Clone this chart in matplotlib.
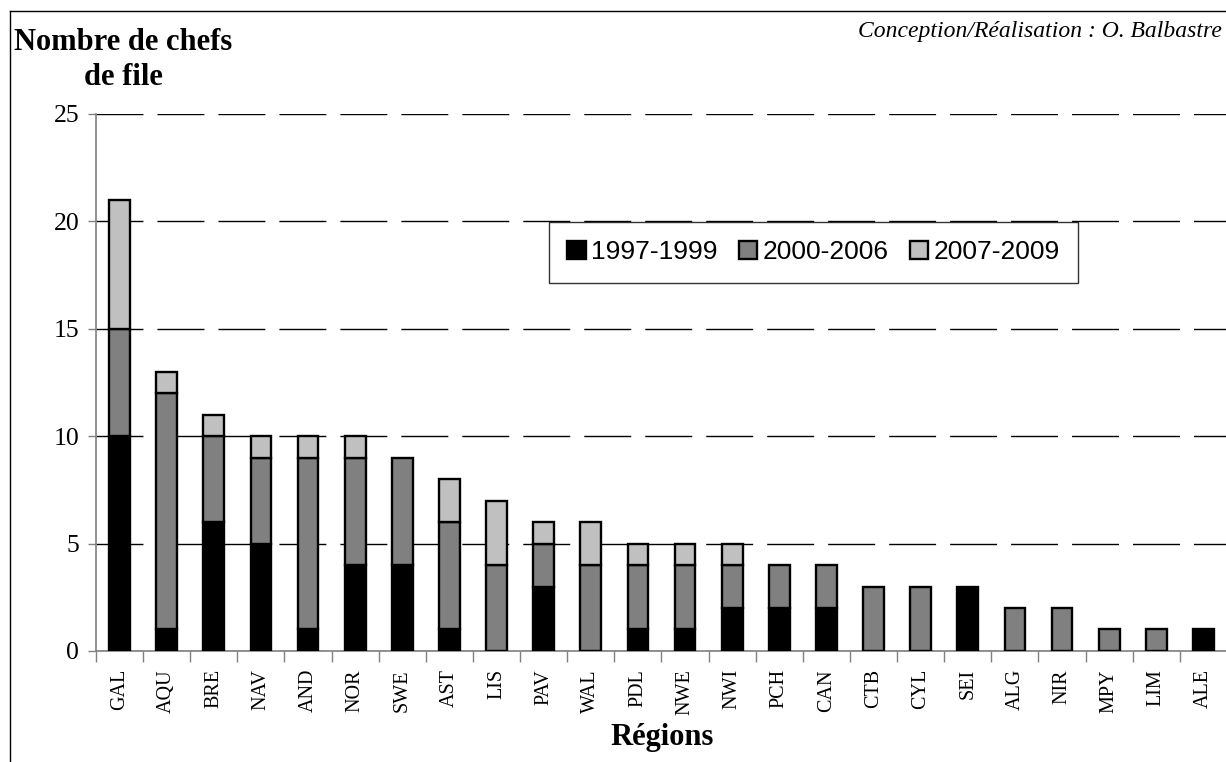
import matplotlib.pyplot as plt
import numpy as np

regions = ['GAL', 'AQU', 'BRE', 'NAV', 'AND', 'NOR', 'SWE', 'AST', 'LIS', 'PAV', 'WAL', 'PDL',
           'NWE', 'NWI', 'PCH', 'CAN', 'CTB', 'CYL', 'SEI', 'ALG', 'NIR', 'MPY', 'LIM', 'ALE']
p1997_1999 = [10, 1, 6, 5, 1, 4, 4, 1, 0, 3, 0, 1, 1, 2, 2, 2, 0, 0, 3, 0, 0, 0, 0, 1]
p2000_2006 = [5, 11, 4, 4, 8, 5, 5, 5, 4, 2, 4, 3, 3, 2, 2, 2, 3, 3, 0, 2, 2, 1, 1, 0]
p2007_2009 = [6, 1, 1, 1, 1, 1, 0, 2, 3, 1, 2, 1, 1, 1, 0, 0, 0, 0, 0, 0, 0, 0, 0, 0]
labels = ['1997-1999', '2000-2006', '2007-2009']
colors = ['#000000', '#808080', '#c0c0c0']

serif = 'Liberation Serif'
sans = 'Liberation Sans'

fig = plt.figure(figsize=(12.26, 7.62), dpi=100)
ax = fig.add_axes([0.0783, 0.1457, 0.9225, 0.7047])

x = np.arange(len(regions))
series = [p1997_1999, p2000_2006, p2007_2009]
bottom = np.zeros(len(regions))
for vals, lab, col in zip(series, labels, colors):
    v = np.array(vals, dtype=float)
    mask = v > 0
    ax.bar(x[mask], v[mask], width=0.44, bottom=bottom[mask], color=col,
           edgecolor='black', linewidth=1.7, label=lab, zorder=3)
    bottom += v

ax.set_xlim(-0.5, len(regions) - 0.5)
ax.set_ylim(0, 25)
ax.set_yticks(range(0, 26, 5))
ax.set_yticklabels([str(t) for t in range(0, 26, 5)], fontfamily=serif, fontsize=18.5)
ax.yaxis.grid(True, color='black', linewidth=1, linestyle=(0, (33.8, 10.1)), zorder=1)
ax.set_axisbelow(True)

ax.set_xticks(x)
ax.set_xticklabels(regions, rotation=90, fontfamily=serif, fontsize=14.5)
ax.tick_params(axis='x', length=0, pad=13)
ax.set_xticks(np.arange(-0.5, len(regions), 1), minor=True)
ax.tick_params(axis='x', which='minor', length=8, color='#808080', width=1)
ax.tick_params(axis='y', length=6, color='#808080', width=1, pad=6)

for s in ['top', 'right']:
    ax.spines[s].set_visible(False)
for s in ['left', 'bottom']:
    ax.spines[s].set_color('#808080')
    ax.spines[s].set_linewidth(1.2)

leg = ax.legend(loc='upper left', bbox_to_anchor=(0.4005, 0.799), ncol=3,
                prop={'family': sans, 'size': 19}, frameon=True, fancybox=False,
                handlelength=0.7, handleheight=0.7, handletextpad=0.2, columnspacing=0.8,
                borderpad=0.7, borderaxespad=0)
leg.get_frame().set_edgecolor('black')
leg.get_frame().set_linewidth(1)

fig.text(123 / 1226, 1 - 60 / 762, 'Nombre de chefs\nde file', ha='center', va='center',
         fontfamily=serif, fontweight='bold', fontsize=22, linespacing=1.25)
fig.text(1222 / 1226, 1 - 31 / 762, 'Conception/Réalisation : O. Balbastre', ha='right',
         va='center', fontfamily=serif, fontstyle='italic', fontsize=17)
fig.text(662 / 1226, 1 - 738 / 762, 'Régions', ha='center', va='center',
         fontfamily=serif, fontweight='bold', fontsize=22)

# frame lines around the figure
fig.add_artist(plt.Line2D([10 / 1226, 1], [1 - 11 / 762, 1 - 11 / 762], color='black',
                          linewidth=1, transform=fig.transFigure))
fig.add_artist(plt.Line2D([10 / 1226, 10 / 1226], [0, 1 - 11 / 762], color='black',
                          linewidth=1, transform=fig.transFigure))

fig.savefig('out.png', dpi=100)
